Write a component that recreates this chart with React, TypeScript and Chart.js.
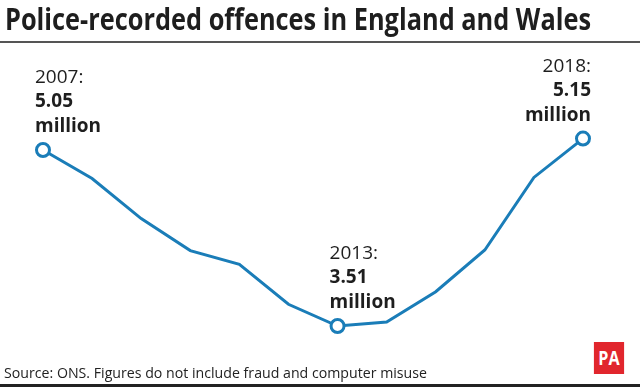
import React, { useEffect, useRef } from "react";
import { Chart, registerables } from "chart.js";

Chart.register(...registerables);

const years = ["2007", "2008", "2009", "2010", "2011", "2012", "2013", "2014", "2015", "2016", "2017", "2018"];
const offences = [5.05, 4.8, 4.45, 4.17, 4.05, 3.7, 3.51, 3.545, 3.81, 4.175, 4.81, 5.15];
const labelled = [0, 6, 11];
const labelAlign = ["left", "left", "right"];

const TITLE = "Police-recorded offences in England and Wales";
const SOURCE = "Source: ONS. Figures do not include fraud and computer misuse";
const FONT = "'Open Sans', sans-serif";
const LINE_COLOR = "#1a7db8";

function fitText(canvasCtx: CanvasRenderingContext2D, text: string, font: string, width: number) {
  canvasCtx.font = font;
  return width / canvasCtx.measureText(text).width;
}

const labelPlugin = {
  id: "endLabels",
  afterDatasetsDraw(chart: any) {
    const ctx = chart.ctx;
    const meta = chart.getDatasetMeta(0);
    ctx.save();
    ctx.fillStyle = "#1e1e1e";
    ctx.textBaseline = "alphabetic";
    labelled.forEach((idx, k) => {
      const pt = meta.data[idx];
      const align = labelAlign[k];
      const x = align === "left" ? pt.x - 8 : pt.x + 8;
      ctx.textAlign = align;
      ctx.font = `400 19px ${FONT}`;
      ctx.fillText(years[idx] + ":", x, pt.y - 67);
      ctx.font = `700 19px ${FONT}`;
      ctx.fillText(offences[idx].toFixed(2), x, pt.y - 43);
      ctx.fillText("million", x, pt.y - 18);
    });
    ctx.restore();
  },
};

export default function App() {
  const ref = useRef<HTMLCanvasElement>(null);
  const titleRef = useRef<HTMLDivElement>(null);
  const srcRef = useRef<HTMLDivElement>(null);

  useEffect(() => {
    const m = document.createElement("canvas").getContext("2d")!;
    if (titleRef.current) {
      const k = fitText(m, TITLE, `700 31px ${FONT}`, 586);
      titleRef.current.style.transform = `scaleX(${k})`;
    }
    if (srcRef.current) {
      const k = fitText(m, SOURCE, `400 15px ${FONT}`, 423);
      srcRef.current.style.transform = `scaleX(${k})`;
    }
    const chart = new Chart(ref.current!, {
      type: "line",
      data: {
        labels: years,
        datasets: [
          {
            data: offences,
            borderColor: LINE_COLOR,
            borderWidth: 3,
            tension: 0,
            pointRadius: years.map((_, i) => (labelled.includes(i) ? 6.5 : 0)),
            pointHoverRadius: 0,
            pointBackgroundColor: "#fff",
            pointBorderColor: LINE_COLOR,
            pointBorderWidth: 3,
          },
        ],
      },
      options: {
        animation: false,
        responsive: false,
        maintainAspectRatio: false,
        layout: { padding: { left: 43, right: 57, top: 50, bottom: 47 } },
        plugins: { legend: { display: false }, tooltip: { enabled: false } },
        scales: {
          x: { display: false, offset: false },
          y: { display: false, min: 3.3875, max: 5.925 },
        },
      },
      plugins: [labelPlugin],
    });
    return () => chart.destroy();
  }, []);

  return (
    <div style={{ position: "fixed", left: 0, top: 0, width: 640, height: 387, background: "#fff", overflow: "hidden" }}>
      <canvas ref={ref} width={640} height={387} style={{ position: "absolute", left: 0, top: 0 }} />
      <div
        ref={titleRef}
        style={{
          position: "absolute",
          left: 5,
          top: -3,
          whiteSpace: "nowrap",
          font: `700 31px ${FONT}`,
          color: "#1e1e1e",
          transformOrigin: "left top",
        }}
      >
        {TITLE}
      </div>
      <div style={{ position: "absolute", left: 0, top: 41, width: 640, height: 2, background: "#555" }} />
      <div
        ref={srcRef}
        style={{
          position: "absolute",
          left: 4,
          top: 362,
          whiteSpace: "nowrap",
          font: `400 15px ${FONT}`,
          color: "#222",
          transformOrigin: "left top",
        }}
      >
        {SOURCE}
      </div>
      <div
        style={{
          position: "absolute",
          left: 591,
          top: 342,
          width: 36,
          height: 32,
          background: "#e1262d",
          color: "#fff",
          font: `700 19px ${FONT}`,
          display: "flex",
          alignItems: "center",
          justifyContent: "center",
          transform: "scaleX(0.85)",
        }}
      >
        PA
      </div>
      <div style={{ position: "absolute", left: 0, top: 384, width: 640, height: 3, background: "#222" }} />
    </div>
  );
}
